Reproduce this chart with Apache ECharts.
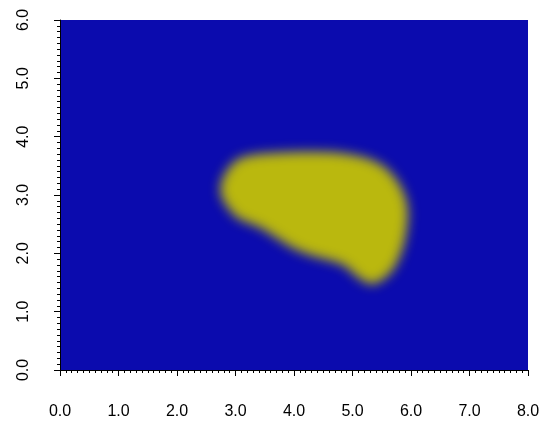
<!DOCTYPE html>
<html>
<head>
<meta charset="utf-8">
<script src="https://cdn.jsdelivr.net/npm/echarts@6/dist/echarts.min.js"></script>
<style>html,body{margin:0;padding:0;background:#fff}#c{width:546px;height:424px}</style>
</head>
<body>
<div id="c"></div>
<script>
// Blob outline (data coordinates)
const blobX = [2.74,2.77,2.86,2.96,3.13,3.37,3.64,4.22,4.79,5.25,5.52,5.69,5.81,5.92,5.95,5.92,5.85,5.73,5.56,5.35,5.18,5.01,4.84,4.56,4.27,3.98,3.71,3.42,3.03,2.86,2.77];
const blobY = [3.09,3.26,3.43,3.55,3.65,3.70,3.72,3.74,3.72,3.63,3.50,3.34,3.17,2.91,2.66,2.35,2.06,1.78,1.58,1.47,1.53,1.66,1.80,1.89,1.97,2.09,2.26,2.44,2.61,2.80,2.95];
const xTicks = [0,1,2,3,4,5,6,7,8];
const yTicks = [0,1,2,3,4,5,6];

const BLUE = '#0b0bae';
const YELLOW = '#bab80e';
const OFF = 3000;

const chart = echarts.init(document.getElementById('c'), null, {renderer: 'canvas'});
const font = 'Liberation Sans, Arial, sans-serif';
chart.setOption({
  animation: false,
  grid: {left: 60, right: 18, top: 20, bottom: 54, show: true, backgroundColor: BLUE, borderWidth: 0},
  xAxis: {
    type: 'value', min: xTicks[0], max: xTicks[xTicks.length-1], interval: 1,
    splitLine: {show: false},
    axisLine: {show: true, onZero: false, lineStyle: {color: '#000', width: 1}},
    axisTick: {show: true, inside: false, length: 6, lineStyle: {color: '#000'}},
    minorTick: {show: true, splitNumber: 10, length: 3, lineStyle: {color: '#000'}},
    axisLabel: {margin: 34, fontSize: 16, color: '#000', fontFamily: font, formatter: v => v.toFixed(1)}
  },
  yAxis: {
    type: 'value', min: yTicks[0], max: yTicks[yTicks.length-1], interval: 1,
    splitLine: {show: false},
    axisLine: {show: true, onZero: false, lineStyle: {color: '#000', width: 1}},
    axisTick: {show: true, inside: false, length: 6, lineStyle: {color: '#000'}},
    minorTick: {show: true, splitNumber: 10, length: 3, lineStyle: {color: '#000'}},
    axisLabel: {margin: 28, rotate: 90, fontSize: 16, color: '#000', fontFamily: font, formatter: v => v.toFixed(1)}
  },
  series: [{
    type: 'custom',
    coordinateSystem: 'cartesian2d',
    data: blobX.map((x, i) => [x, blobY[i]]),
    renderItem: function (params, api) {
      if (params.dataIndex !== 0) return;
      const pts = blobX.map((x, i) => {
        const p = api.coord([x, blobY[i]]);
        return [p[0] - OFF, p[1]];
      });
      return {
        type: 'polygon',
        shape: {points: pts, smooth: 0.3},
        style: {fill: YELLOW, shadowBlur: 12, shadowColor: YELLOW, shadowOffsetX: OFF, shadowOffsetY: 0}
      };
    }
  }]
});
</script>
</body>
</html>
